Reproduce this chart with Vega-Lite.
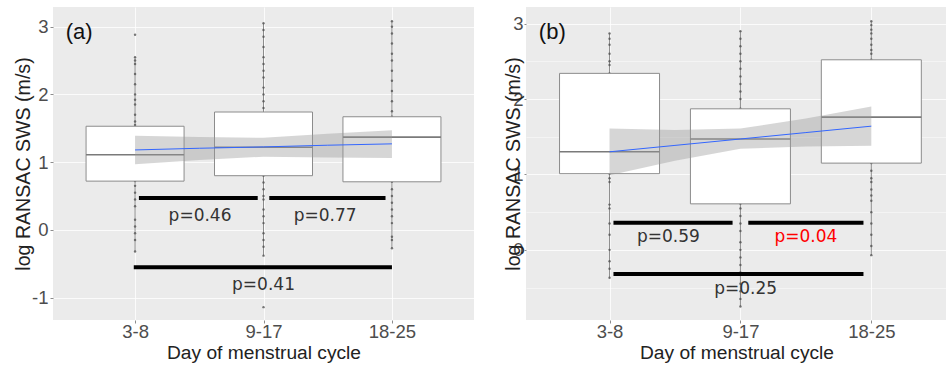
{
  "$schema": "https://vega.github.io/schema/vega-lite/v6.json",
  "padding": {"left": 12, "top": 7, "right": 0, "bottom": 0},
  "background": "white",
  "bounds": "flush",
  "spacing": 52,
  "config": {
    "view": {"fill": "#ebebeb", "stroke": null},
    "axis": {
      "domain": false,
      "labelFont": "Liberation Sans",
      "labelFontSize": 18.5,
      "labelColor": "#4d4d4d",
      "titleFont": "Liberation Sans",
      "titleFontWeight": "normal",
      "titleColor": "#222222",
      "gridColor": "#ffffff",
      "gridOpacity": 0.8
    }
  },
  "datasets": {
    "ptsA": [
      {"g":1,"v":2.88},{"g":1,"v":2.55},{"g":1,"v":2.5},{"g":1,"v":2.45},{"g":1,"v":2.3},{"g":1,"v":2.15},{"g":1,"v":2.0},{"g":1,"v":1.92},{"g":1,"v":1.85},{"g":1,"v":1.7},{"g":1,"v":1.6},{"g":1,"v":1.55},{"g":1,"v":1.4},{"g":1,"v":1.25},{"g":1,"v":1.1},{"g":1,"v":0.95},{"g":1,"v":0.8},{"g":1,"v":0.72},{"g":1,"v":0.65},{"g":1,"v":0.55},{"g":1,"v":0.45},{"g":1,"v":0.35},{"g":1,"v":0.15},{"g":1,"v":0.05},{"g":1,"v":-0.05},{"g":1,"v":-0.15},{"g":1,"v":-0.32},
      {"g":2,"v":3.05},{"g":2,"v":2.95},{"g":2,"v":2.85},{"g":2,"v":2.7},{"g":2,"v":2.55},{"g":2,"v":2.45},{"g":2,"v":2.35},{"g":2,"v":2.25},{"g":2,"v":2.1},{"g":2,"v":2.0},{"g":2,"v":1.9},{"g":2,"v":1.8},{"g":2,"v":1.5},{"g":2,"v":1.2},{"g":2,"v":1.0},{"g":2,"v":0.8},{"g":2,"v":0.7},{"g":2,"v":0.6},{"g":2,"v":0.5},{"g":2,"v":0.45},{"g":2,"v":0.3},{"g":2,"v":0.2},{"g":2,"v":0.1},{"g":2,"v":-0.05},{"g":2,"v":-0.15},{"g":2,"v":-0.25},{"g":2,"v":-0.38},{"g":2,"v":-1.14},
      {"g":3,"v":3.08},{"g":3,"v":3.0},{"g":3,"v":2.9},{"g":3,"v":2.75},{"g":3,"v":2.6},{"g":3,"v":2.5},{"g":3,"v":2.35},{"g":3,"v":2.2},{"g":3,"v":2.05},{"g":3,"v":1.9},{"g":3,"v":1.75},{"g":3,"v":1.67},{"g":3,"v":1.4},{"g":3,"v":1.1},{"g":3,"v":0.9},{"g":3,"v":0.71},{"g":3,"v":0.6},{"g":3,"v":0.5},{"g":3,"v":0.4},{"g":3,"v":0.3},{"g":3,"v":0.2},{"g":3,"v":0.1},{"g":3,"v":-0.1},{"g":3,"v":-0.15},{"g":3,"v":-0.27}
    ],
    "boxA": [
      {"g":1,"lo":-0.32,"q1":0.72,"med":1.11,"q3":1.53,"hi":2.55},
      {"g":2,"lo":-0.38,"q1":0.80,"med":1.22,"q3":1.74,"hi":3.05},
      {"g":3,"lo":-0.27,"q1":0.71,"med":1.37,"q3":1.67,"hi":3.08}
    ],
    "bandA": [
      {"x":1.0,"fit":1.18,"lo":0.97,"hi":1.39},
      {"x":1.5,"fit":1.205,"lo":1.03,"hi":1.37},
      {"x":2.0,"fit":1.225,"lo":1.08,"hi":1.36},
      {"x":2.5,"fit":1.25,"lo":1.07,"hi":1.42},
      {"x":3.0,"fit":1.27,"lo":1.06,"hi":1.47}
    ],
    "pbarA": [
      {"x1":1.03,"x2":1.955,"y":0.47},
      {"x1":2.045,"x2":2.95,"y":0.47},
      {"x1":0.99,"x2":3.0,"y":-0.55}
    ],
    "ptxtA": [
      {"x":1.506,"y":0.21,"label":"p=0.46","sig":false},
      {"x":2.48,"y":0.21,"label":"p=0.77","sig":false},
      {"x":2.0,"y":-0.81,"label":"p=0.41","sig":false}
    ],
    "tagA": [{"x":0.46,"y":2.92,"label":"(a)"}],
    "ptsB": [
      {"g":1,"v":2.87},{"g":1,"v":2.8},{"g":1,"v":2.72},{"g":1,"v":2.6},{"g":1,"v":2.5},{"g":1,"v":2.45},{"g":1,"v":2.34},{"g":1,"v":2.0},{"g":1,"v":1.6},{"g":1,"v":1.3},{"g":1,"v":1.01},{"g":1,"v":0.95},{"g":1,"v":0.9},{"g":1,"v":0.6},{"g":1,"v":0.55},{"g":1,"v":0.35},{"g":1,"v":0.2},{"g":1,"v":0.0},{"g":1,"v":-0.15},{"g":1,"v":-0.25},{"g":1,"v":-0.37},
      {"g":2,"v":2.9},{"g":2,"v":2.8},{"g":2,"v":2.7},{"g":2,"v":2.6},{"g":2,"v":2.5},{"g":2,"v":2.4},{"g":2,"v":2.3},{"g":2,"v":2.2},{"g":2,"v":2.1},{"g":2,"v":2.0},{"g":2,"v":1.87},{"g":2,"v":1.5},{"g":2,"v":1.0},{"g":2,"v":0.61},{"g":2,"v":0.55},{"g":2,"v":0.45},{"g":2,"v":0.35},{"g":2,"v":0.25},{"g":2,"v":0.1},{"g":2,"v":0.0},{"g":2,"v":-0.1},{"g":2,"v":-0.2},{"g":2,"v":-0.3},{"g":2,"v":-0.45},{"g":2,"v":-0.55},{"g":2,"v":-0.65},{"g":2,"v":-0.75},
      {"g":3,"v":3.03},{"g":3,"v":2.98},{"g":3,"v":2.92},{"g":3,"v":2.87},{"g":3,"v":2.8},{"g":3,"v":2.72},{"g":3,"v":2.65},{"g":3,"v":2.6},{"g":3,"v":2.52},{"g":3,"v":2.0},{"g":3,"v":1.5},{"g":3,"v":1.15},{"g":3,"v":1.05},{"g":3,"v":0.95},{"g":3,"v":0.9},{"g":3,"v":0.8},{"g":3,"v":0.72},{"g":3,"v":0.65},{"g":3,"v":0.5},{"g":3,"v":0.35},{"g":3,"v":0.2},{"g":3,"v":0.05},{"g":3,"v":-0.07}
    ],
    "boxB": [
      {"g":1,"lo":-0.37,"q1":1.01,"med":1.30,"q3":2.34,"hi":2.87},
      {"g":2,"lo":-0.75,"q1":0.61,"med":1.47,"q3":1.87,"hi":2.90},
      {"g":3,"lo":-0.07,"q1":1.15,"med":1.76,"q3":2.52,"hi":3.03}
    ],
    "bandB": [
      {"x":1.0,"fit":1.30,"lo":0.99,"hi":1.61},
      {"x":1.5,"fit":1.385,"lo":1.18,"hi":1.59},
      {"x":2.0,"fit":1.47,"lo":1.34,"hi":1.61},
      {"x":2.5,"fit":1.555,"lo":1.37,"hi":1.74},
      {"x":3.0,"fit":1.64,"lo":1.38,"hi":1.90}
    ],
    "pbarB": [
      {"x1":1.03,"x2":1.94,"y":0.36},
      {"x1":2.06,"x2":2.94,"y":0.36},
      {"x1":1.03,"x2":2.94,"y":-0.32}
    ],
    "ptxtB": [
      {"x":1.45,"y":0.17,"label":"p=0.59","sig":false},
      {"x":2.5,"y":0.17,"label":"p=0.04","sig":true},
      {"x":2.04,"y":-0.52,"label":"p=0.25","sig":false}
    ],
    "tagB": [{"x":0.46,"y":2.89,"label":"(b)"}]
  },
  "hconcat": [
    {
      "width": 421,
      "height": 313,
      "layer": [
        {
          "data": {"name": "boxA"},
          "mark": {"type": "rule", "color": "#8c8c8c", "strokeWidth": 1},
          "encoding": {
            "x": {"field": "g", "type": "quantitative",
              "scale": {"domain": [0.4, 3.6], "nice": false, "zero": false},
              "axis": {"values": [1, 2, 3], "labelExpr": "datum.value == 1 ? '3-8' : datum.value == 2 ? '9-17' : '18-25'",
                "grid": true, "gridWidth": 1.1, "tickSize": 3, "tickColor": "#8c8c8c",
                "labelBaseline": "alphabetic", "labelPadding": 14,
                "title": "Day of menstrual cycle", "titleFontSize": 19.2, "titleY": 38, "titleBaseline": "alphabetic"}},
            "y": {"field": "lo", "type": "quantitative",
              "scale": {"domain": [-1.33, 3.29], "nice": false, "zero": false},
              "axis": {"values": [-1, -0.5, 0, 0.5, 1, 1.5, 2, 2.5, 3],
                "labelExpr": "datum.value % 1 == 0 ? '' + datum.value : ''",
                "grid": true,
                "gridWidth": {"condition": {"test": "datum.value % 1 == 0", "value": 1.1}, "value": 0.6},
                "tickColor": {"condition": {"test": "datum.value % 1 == 0", "value": "#8c8c8c"}, "value": "transparent"},
                "tickSize": 3, "labelPadding": 2,
                "title": "log RANSAC SWS (m/s)", "titleFontSize": 19.6, "titleAngle": 270,
                "titleX": -24, "titleY": 156.5, "titleBaseline": "alphabetic", "titleAlign": "center"}},
            "y2": {"field": "hi"}
          }
        },
        {
          "data": {"name": "ptsA"},
          "mark": {"type": "circle", "size": 6, "color": "#4d4d4d", "opacity": 0.75},
          "encoding": {
            "x": {"field": "g", "type": "quantitative"},
            "y": {"field": "v", "type": "quantitative"}
          }
        },
        {
          "data": {"name": "boxA"},
          "mark": {"type": "bar", "width": 98, "fill": "white", "stroke": "#8c8c8c", "strokeWidth": 1},
          "encoding": {
            "x": {"field": "g", "type": "quantitative"},
            "y": {"field": "q1", "type": "quantitative"},
            "y2": {"field": "q3"}
          }
        },
        {
          "data": {"name": "boxA"},
          "mark": {"type": "tick", "orient": "horizontal", "size": 98, "thickness": 1.6, "color": "#7a7a7a", "opacity": 1},
          "encoding": {
            "x": {"field": "g", "type": "quantitative"},
            "y": {"field": "med", "type": "quantitative"}
          }
        },
        {
          "data": {"name": "bandA"},
          "mark": {"type": "area", "color": "#999999", "opacity": 0.4},
          "encoding": {
            "x": {"field": "x", "type": "quantitative"},
            "y": {"field": "lo", "type": "quantitative"},
            "y2": {"field": "hi"}
          }
        },
        {
          "data": {"name": "bandA"},
          "mark": {"type": "line", "color": "#3366ff", "strokeWidth": 1},
          "encoding": {
            "x": {"field": "x", "type": "quantitative"},
            "y": {"field": "fit", "type": "quantitative"}
          }
        },
        {
          "data": {"name": "pbarA"},
          "mark": {"type": "rule", "color": "#000000", "strokeWidth": 4},
          "encoding": {
            "x": {"field": "x1", "type": "quantitative"},
            "x2": {"field": "x2"},
            "y": {"field": "y", "type": "quantitative"}
          }
        },
        {
          "data": {"name": "ptxtA"},
          "mark": {"type": "text", "font": "DejaVu Sans", "fontSize": 17, "baseline": "middle", "align": "center"},
          "encoding": {
            "x": {"field": "x", "type": "quantitative"},
            "y": {"field": "y", "type": "quantitative"},
            "text": {"field": "label"},
            "color": {"condition": {"test": "datum.sig", "value": "#ff0000"}, "value": "#333333"}
          }
        },
        {
          "data": {"name": "tagA"},
          "mark": {"type": "text", "font": "Liberation Sans", "fontSize": 22, "baseline": "middle", "align": "left", "color": "#111111"},
          "encoding": {
            "x": {"field": "x", "type": "quantitative"},
            "y": {"field": "y", "type": "quantitative"},
            "text": {"field": "label"}
          }
        }
      ]
    },
    {
      "width": 421,
      "height": 313,
      "layer": [
        {
          "data": {"name": "boxB"},
          "mark": {"type": "rule", "color": "#8c8c8c", "strokeWidth": 1},
          "encoding": {
            "x": {"field": "g", "type": "quantitative",
              "scale": {"domain": [0.4, 3.54], "nice": false, "zero": false},
              "axis": {"values": [1, 2, 3], "labelExpr": "datum.value == 1 ? '3-8' : datum.value == 2 ? '9-17' : '18-25'",
                "grid": true, "gridWidth": 1.1, "tickSize": 3, "tickColor": "#8c8c8c",
                "labelBaseline": "alphabetic", "labelPadding": 14,
                "title": "Day of menstrual cycle", "titleFontSize": 19.2, "titleY": 38, "titleBaseline": "alphabetic"}},
            "y": {"field": "lo", "type": "quantitative",
              "scale": {"domain": [-0.93, 3.22], "nice": false, "zero": false},
              "axis": {"values": [-0.5, 0, 0.5, 1, 1.5, 2, 2.5, 3],
                "labelExpr": "datum.value % 1 == 0 ? '' + datum.value : ''",
                "grid": true,
                "gridWidth": {"condition": {"test": "datum.value % 1 == 0", "value": 1.1}, "value": 0.6},
                "tickColor": {"condition": {"test": "datum.value % 1 == 0", "value": "#8c8c8c"}, "value": "transparent"},
                "tickSize": 2, "labelPadding": 1,
                "title": "log RANSAC SWS (m/s)", "titleFontSize": 19.6, "titleAngle": 270,
                "titleX": -7, "titleY": 156.5, "titleBaseline": "alphabetic", "titleAlign": "center"}},
            "y2": {"field": "hi"}
          }
        },
        {
          "data": {"name": "ptsB"},
          "mark": {"type": "circle", "size": 6, "color": "#4d4d4d", "opacity": 0.75},
          "encoding": {
            "x": {"field": "g", "type": "quantitative"},
            "y": {"field": "v", "type": "quantitative"}
          }
        },
        {
          "data": {"name": "boxB"},
          "mark": {"type": "bar", "width": 100, "fill": "white", "stroke": "#8c8c8c", "strokeWidth": 1},
          "encoding": {
            "x": {"field": "g", "type": "quantitative"},
            "y": {"field": "q1", "type": "quantitative"},
            "y2": {"field": "q3"}
          }
        },
        {
          "data": {"name": "boxB"},
          "mark": {"type": "tick", "orient": "horizontal", "size": 100, "thickness": 1.6, "color": "#7a7a7a", "opacity": 1},
          "encoding": {
            "x": {"field": "g", "type": "quantitative"},
            "y": {"field": "med", "type": "quantitative"}
          }
        },
        {
          "data": {"name": "bandB"},
          "mark": {"type": "area", "color": "#999999", "opacity": 0.4},
          "encoding": {
            "x": {"field": "x", "type": "quantitative"},
            "y": {"field": "lo", "type": "quantitative"},
            "y2": {"field": "hi"}
          }
        },
        {
          "data": {"name": "bandB"},
          "mark": {"type": "line", "color": "#3366ff", "strokeWidth": 1},
          "encoding": {
            "x": {"field": "x", "type": "quantitative"},
            "y": {"field": "fit", "type": "quantitative"}
          }
        },
        {
          "data": {"name": "pbarB"},
          "mark": {"type": "rule", "color": "#000000", "strokeWidth": 4},
          "encoding": {
            "x": {"field": "x1", "type": "quantitative"},
            "x2": {"field": "x2"},
            "y": {"field": "y", "type": "quantitative"}
          }
        },
        {
          "data": {"name": "ptxtB"},
          "mark": {"type": "text", "font": "DejaVu Sans", "fontSize": 17, "baseline": "middle", "align": "center"},
          "encoding": {
            "x": {"field": "x", "type": "quantitative"},
            "y": {"field": "y", "type": "quantitative"},
            "text": {"field": "label"},
            "color": {"condition": {"test": "datum.sig", "value": "#ff0000"}, "value": "#333333"}
          }
        },
        {
          "data": {"name": "tagB"},
          "mark": {"type": "text", "font": "Liberation Sans", "fontSize": 22, "baseline": "middle", "align": "left", "color": "#111111"},
          "encoding": {
            "x": {"field": "x", "type": "quantitative"},
            "y": {"field": "y", "type": "quantitative"},
            "text": {"field": "label"}
          }
        }
      ]
    }
  ]
}
